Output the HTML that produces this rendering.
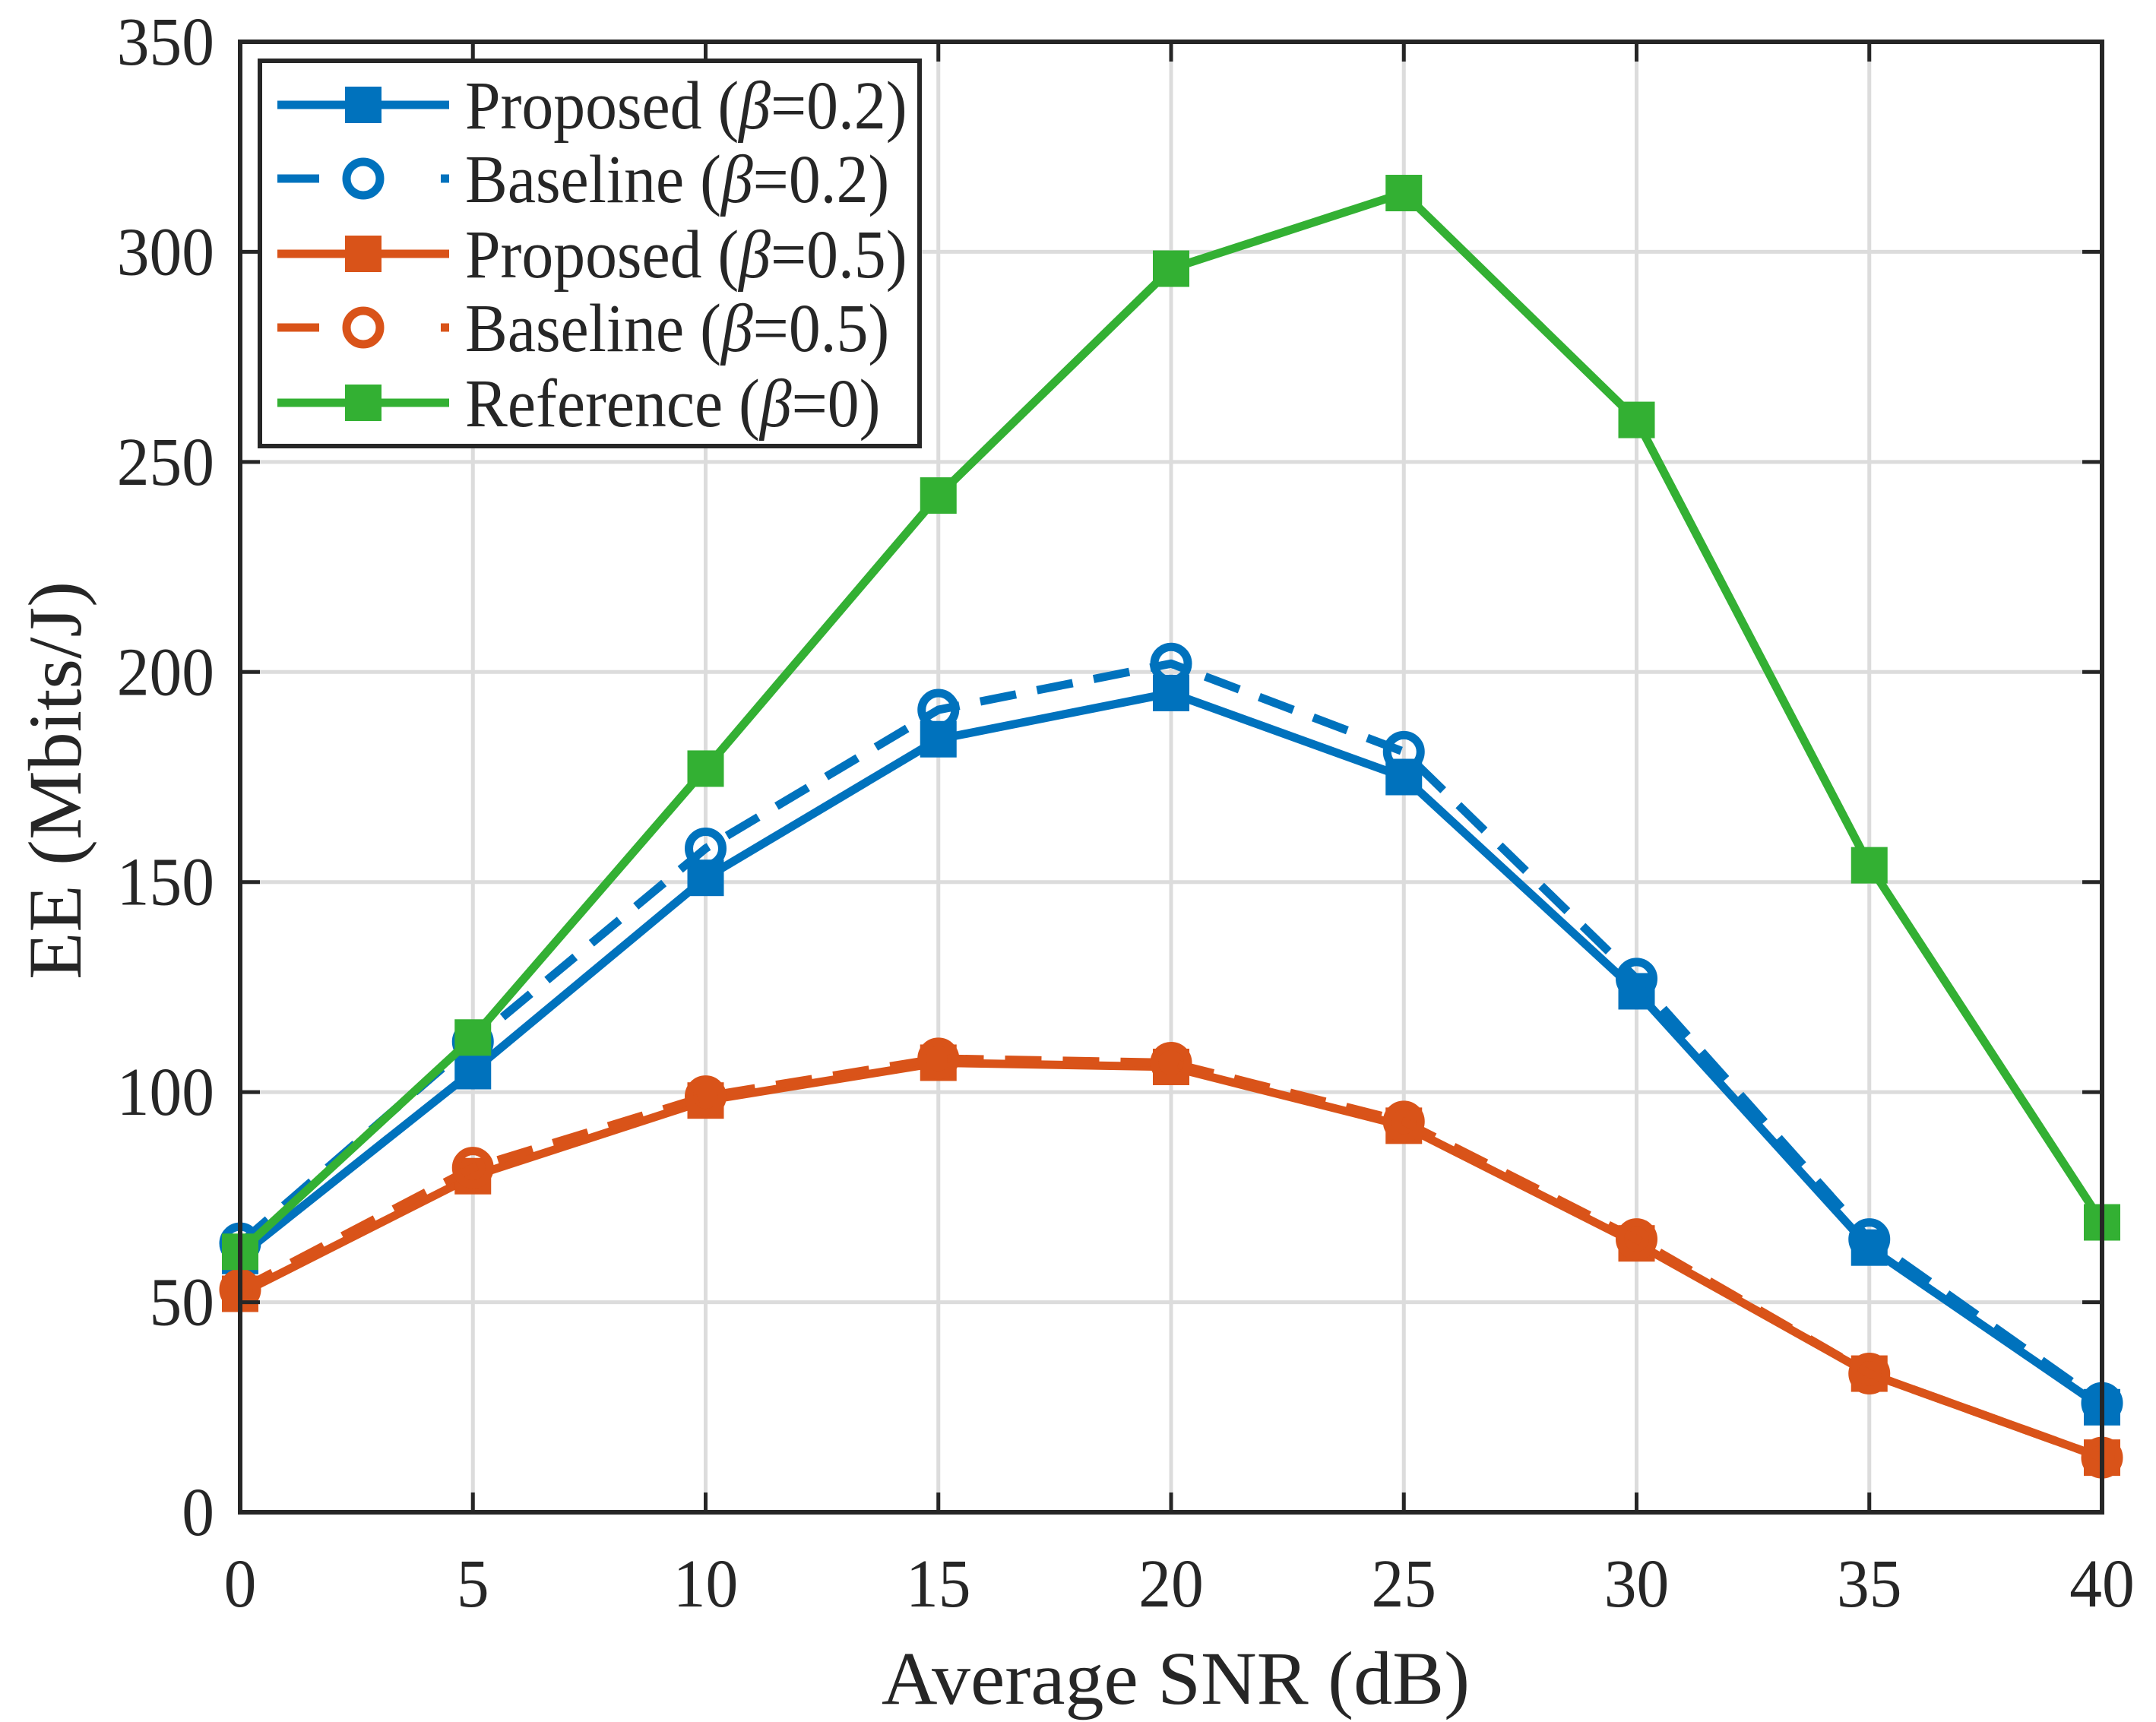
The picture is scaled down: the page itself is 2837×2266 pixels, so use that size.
<!DOCTYPE html>
<html><head><meta charset="utf-8"><style>body{margin:0;background:#fff}svg{display:block}text{font-family:"Liberation Serif",serif;fill:#262626}</style></head>
<body>
<svg id="chart" width="2837" height="2266" viewBox="0 0 2837 2266" xmlns="http://www.w3.org/2000/svg">
<rect width="2837" height="2266" fill="#fff"/>
<g id="grid"></g><g id="series"></g><g id="axes"></g><g id="legend"></g>
</svg>
<script>
const snr = [0,5,10,15,20,25,30,35,40];
const proposed02 = [61,105,151,184,195,175,124,63,25];
const baseline02 = [64,112,158,191,202,181,127,65,26];
const proposed05 = [52,80,98,107,106,92,64,33,13];
const baseline05 = [53,82,99,108,107,93,65,33,13];
const reference0 = [62,113,177,242,296,314,260,154,69];
const xTicks = [0,5,10,15,20,25,30,35,40];
const yTicks = [0,50,100,150,200,250,300,350];

const NS="http://www.w3.org/2000/svg";
const L=316,R=2766,T=55,B=1990;
const X=v=>L+(v-0)/(40-0)*(R-L);
const Y=v=>B-(v/350)*(B-T);
function mk(tag,attrs,parent){const e=document.createElementNS(NS,tag);for(const k in attrs)e.setAttribute(k,attrs[k]);parent.appendChild(e);return e;}
const grid=document.getElementById('grid'),axes=document.getElementById('axes'),ser=document.getElementById('series'),leg=document.getElementById('legend');

xTicks.forEach(t=>{
 const g=mk('line',{x1:X(t),x2:X(t),y1:T,y2:B,stroke:'#dcdcdc','stroke-width':5},grid);
 
 
 const tk=mk('line',{x1:X(t),x2:X(t),y1:B,y2:B-26,stroke:'#262626','stroke-width':5},axes);
 
 
 const tk2=mk('line',{x1:X(t),x2:X(t),y1:T,y2:T+26,stroke:'#262626','stroke-width':5},axes);
 
 
 const lb=mk('text',{x:0,y:0,'text-anchor':'middle','font-size':90,transform:'translate('+X(t)+',2114) scale(0.95,1)'},axes);
 lb.textContent=t;
 
 
});
yTicks.forEach(t=>{
 const g=mk('line',{x1:L,x2:R,y1:Y(t),y2:Y(t),stroke:'#dcdcdc','stroke-width':5},grid);
 
 
 const tk=mk('line',{x1:L,x2:L+26,y1:Y(t),y2:Y(t),stroke:'#262626','stroke-width':5},axes);
 
 
 const tk2=mk('line',{x1:R,x2:R-26,y1:Y(t),y2:Y(t),stroke:'#262626','stroke-width':5},axes);
 
 
 const lb=mk('text',{x:0,y:0,'text-anchor':'end','font-size':90,transform:'translate(282,'+(Y(t)+30)+') scale(0.95,1)'},axes);
 lb.textContent=t;
 
 
});
const frame=mk('rect',{x:L,y:T,width:R-L,height:B-T,fill:'none',stroke:'#262626','stroke-width':6},axes);


const xl=mk('text',{x:0,y:0,'text-anchor':'middle','font-size':100,transform:'translate(1547,2242) scale(1.02,1)'},axes);
xl.textContent='Average SNR (dB)';


const yl=mk('text',{x:0,y:0,'text-anchor':'middle','font-size':100,transform:'translate(106,1027) rotate(-90) scale(1.02,1)'},axes);
yl.textContent='EE (Mbits/J)';



const series=[
 {name:'proposed-0-2',data:proposed02,color:'#0072BD',dash:null,marker:'sq'},
 {name:'baseline-0-2',data:baseline02,color:'#0072BD',dash:'48 28',marker:'ci'},
 {name:'proposed-0-5',data:proposed05,color:'#D95319',dash:null,marker:'sq'},
 {name:'baseline-0-5',data:baseline05,color:'#D95319',dash:'48 28',marker:'ci'},
 {name:'reference-0',data:reference0,color:'#33B033',dash:null,marker:'sq'}
];
function marker(s,cx,cy,parent){
 let m;
 if(s.marker==='sq') m=mk('rect',{x:cx-24,y:cy-24,width:48,height:48,fill:s.color},parent);
 else m=mk('circle',{cx:cx,cy:cy,r:22,fill:'none',stroke:s.color,'stroke-width':11},parent);
 return m;
}
series.forEach(s=>{
 const g=mk('g',{},ser);
 
 
 const pts=s.data.map((v,i)=>X(snr[i])+','+Y(v)).join(' ');
 const pl=mk('polyline',{points:pts,fill:'none',stroke:s.color,'stroke-width':11,'stroke-linejoin':'round'},g);
 if(s.dash) pl.setAttribute('stroke-dasharray',s.dash);
 
 
 s.data.forEach((v,i)=>{
  const m=marker(s,X(snr[i]),Y(v),g);
  
  
 });
});

const lbox=mk('rect',{x:342,y:80,width:868,height:507,fill:'#fff',stroke:'#262626','stroke-width':6},leg);


const labels=['Proposed (','Baseline (','Proposed (','Baseline (','Reference ('];
const vals=['=0.2)','=0.2)','=0.5)','=0.5)','=0)'];
const rows=[138,235,334,431,530];
series.forEach((s,i)=>{
 const g=mk('g',{},leg);
 
 
 const ln=mk('line',{x1:365,x2:591,y1:rows[i],y2:rows[i],stroke:s.color,'stroke-width':11},g);
 if(s.dash) ln.setAttribute('stroke-dasharray','55 160 11 300');
 marker(s,478,rows[i],g);
 const t=mk('text',{x:0,y:0,'font-size':90,transform:'translate(612,'+(rows[i]+31)+') scale(0.93,1)'},g);
 t.textContent=labels[i];
 const b=mk('tspan',{'font-style':'italic'},t);b.textContent='β';
 const r=mk('tspan',{},t);r.textContent=vals[i];
});
</script>
</body></html>
